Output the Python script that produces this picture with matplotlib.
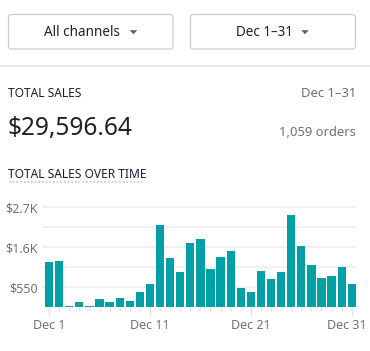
import matplotlib
matplotlib.use("Agg")
import matplotlib.pyplot as plt
from matplotlib.patches import FancyBboxPatch, Polygon
from matplotlib.lines import Line2D
from matplotlib.transforms import ScaledTranslation

# ---- data ----
days = list(range(1, 32))
sales = [1254, 1283, 37, 147, 37, 238, 147, 266, 183, 431,
         642, 2273, 1365, 981, 1778, 1888, 1063, 1393, 1558, 541,
         431, 1008, 788, 981, 2548, 1696, 1164, 816, 871, 1118, 651]
x_tick_days = [1, 11, 21, 31]
x_tick_labels = ["Dec 1", "Dec 11", "Dec 21", "Dec 31"]
grid_values = [550, 1100, 1650, 2200, 2750]
y_tick_values = [550, 1650, 2750]
y_tick_labels = ["$550", "$1.6K", "$2.7K"]
channel_label = "All channels"
range_label = "Dec 1–31"
total_label = "TOTAL SALES"
total_value = "$29,596.64"
orders_label = "1,059 orders"
chart_title = "TOTAL SALES OVER TIME"

W, H = 370, 351
plt.rcParams['font.family'] = ['Noto Sans', 'DejaVu Sans']
fig = plt.figure(figsize=(W / 100, H / 100), dpi=100)
fig.patch.set_facecolor("white")

def fx(px):
    return px / W

def fy(py):
    return 1 - py / H

def pt(px):
    return px * 72 / 100

DARK = "#202223"
GRAY = "#6d7175"
TEAL = "#00a0a6"

# buttons
for (x0, x1, label, tx, trx) in [(8.5, 173, channel_label, 82, 133.5),
                                  (190.5, 355.5, range_label, 264, 305)]:
    box = FancyBboxPatch((fx(x0), fy(49)), fx(x1 - x0), (49 - 14.5) / H,
                         boxstyle="round,pad=0,rounding_size=0.008",
                         transform=fig.transFigure, facecolor="white",
                         edgecolor="#c9cccf", linewidth=0.9)
    fig.patches.append(box)
    fig.text(fx(tx), fy(32), label, ha="center", va="center",
             fontsize=pt(13.5), color=DARK, fontweight="semibold")
    tri = Polygon([(fx(trx - 3.8), fy(30.2)), (fx(trx + 3.8), fy(30.2)),
                   (fx(trx), fy(34.2))], closed=True, transform=fig.transFigure,
                  facecolor="#5c5f62", edgecolor="none")
    fig.patches.append(tri)

# divider
fig.lines.append(Line2D([0, 1], [fy(66), fy(66)], transform=fig.transFigure,
                        color="#e1e3e5", linewidth=1.2))

fig.text(fx(8), fy(93.5), total_label, ha="left", va="center",
         fontsize=pt(12), color=DARK)
fig.text(fx(356), fy(93.5), range_label, ha="right", va="center",
         fontsize=pt(13), color=GRAY)
fig.text(fx(7.5), fy(128), total_value, ha="left", va="center",
         fontsize=pt(24.5), color=DARK)
fig.text(fx(356), fy(132), orders_label, ha="right", va="center",
         fontsize=pt(13), color=GRAY)
fig.text(fx(8), fy(174), chart_title, ha="left", va="center",
         fontsize=pt(12), color="#1a1c3a")
fig.lines.append(Line2D([fx(8.5), fx(144)], [fy(181.7), fy(181.7)],
                        transform=fig.transFigure, color="#c4c7d4",
                        linewidth=1.2, linestyle=(0, (1, 1.2))))

# chart axes
ax = fig.add_axes([fx(43), fy(307.3), fx(356 - 43), (307.3 - 207.3) / H])
ax.bar(days, sales, width=0.82, color=TEAL, zorder=2)
ax.set_xlim(0.4, 31.42)
ax.set_ylim(0, 2750)
for v in grid_values:
    ax.axhline(v, color="#eeeeee", linewidth=1.1, zorder=0, clip_on=False)
for s in ax.spines.values():
    s.set_visible(False)
ax.set_yticks(y_tick_values)
ax.set_yticklabels(y_tick_labels, fontsize=pt(12.5), color=GRAY)
ax.tick_params(axis="y", length=0, pad=4)
ax.set_xticks(x_tick_days)
ax.set_xticklabels(x_tick_labels, fontsize=pt(12.5), color=GRAY)
ax.set_xticks([d for d in days if d not in x_tick_days], minor=True)
ax.tick_params(axis="x", which="major", length=8.5 * 0.72, color="#dfe3e8",
               width=1, pad=2)
ax.tick_params(axis="x", which="minor", length=4 * 0.72, color="#dfe3e8",
               width=1)
ax.set_facecolor("white")

# keep the last date label inside the canvas
last = ax.get_xticklabels()[-1]
last.set_horizontalalignment("right")
last.set_transform(last.get_transform() +
                   ScaledTranslation(15 / 100, 0, fig.dpi_scale_trans))

fig.savefig("out.png", dpi=100, facecolor="white")
